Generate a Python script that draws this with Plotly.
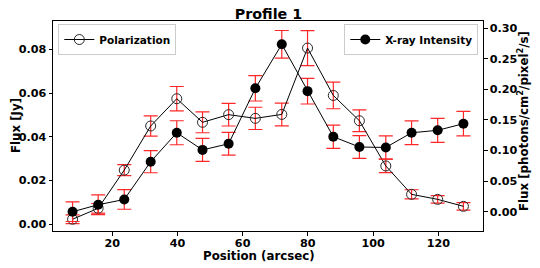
import plotly.graph_objects as go

# Data
position = [7.85, 15.7, 23.7, 31.8, 39.8, 47.7, 55.7, 63.9, 72.0, 79.9, 87.8, 95.8, 103.9, 111.8, 119.8, 127.7]
polarization = [0.0022, 0.0072, 0.0247, 0.0449, 0.0574, 0.0466, 0.0501, 0.0484, 0.0502, 0.0806,
                0.0589, 0.0473, 0.0266, 0.0136, 0.0113, 0.0081]
polarization_err = [0.0020, 0.0022, 0.0025, 0.0046, 0.0056, 0.0048, 0.0052, 0.0051, 0.0052, 0.0080,
                    0.0061, 0.0050, 0.0031, 0.0021, 0.0017, 0.0017]
xray = [0.0, 0.0114, 0.020, 0.0817, 0.129, 0.101, 0.111, 0.2016, 0.2735, 0.197,
        0.1225, 0.1057, 0.105, 0.129, 0.133, 0.1438]
xray_err = [0.016, 0.016, 0.016, 0.018, 0.0196, 0.0188, 0.0185, 0.0207, 0.0226, 0.021,
            0.019, 0.0185, 0.019, 0.0194, 0.0196, 0.020]
x_ticks = [20, 40, 60, 80, 100, 120]
left_ticks = [0, 0.02, 0.04, 0.06, 0.08]
right_ticks = [0, 0.05, 0.10, 0.15, 0.20, 0.25, 0.30]

FONT = "DejaVu Sans"
OFF = 8  # default page body margin of the HTML page
W, H = 540 - OFF, 268 - OFF
# plot area in page pixels: x 53..483, y 21..231
L, T = 53 - OFF, 21 - OFF
R, B = W - (483 - OFF), H - (231 - OFF)
PW, PH = W - L - R, H - T - B


def px_x(page_x):
    return (page_x - OFF - L) / PW


def px_y(page_y):
    return (H - B - (page_y - OFF)) / PH


fig = go.Figure()
fig.add_trace(go.Scatter(
    x=position, y=polarization, name="Polarization", mode="lines+markers", showlegend=True,
    line=dict(color="black", width=1),
    marker=dict(symbol="circle-open", size=10, color="rgb(40,40,40)", line=dict(width=1)),
    error_y=dict(type="data", array=polarization_err, visible=True, color="rgb(255,40,40)", thickness=1.2, width=7),
    legend="legend", yaxis="y",
))
fig.add_trace(go.Scatter(
    x=position, y=xray, name="X-ray Intensity", mode="lines+markers", showlegend=True,
    line=dict(color="black", width=1),
    marker=dict(symbol="circle", size=10, color="black"),
    error_y=dict(type="data", array=xray_err, visible=True, color="rgb(255,40,40)", thickness=1.2, width=7),
    legend="legend2", yaxis="y2",
))

axis_common = dict(
    showline=True, linecolor="black", linewidth=1, ticks="outside", ticklen=3.5, tickwidth=1,
    tickcolor="black", showgrid=False, zeroline=False, automargin=False,
    tickfont=dict(family=FONT, size=11.2, color="black", weight="bold"),
)
title_font = dict(family=FONT, size=11.8, color="black", weight="bold")
legend_font = dict(family=FONT, size=10.5, color="black", weight="bold")

fig.update_layout(
    template="none",
    width=W, height=H,
    margin=dict(l=L, r=R, t=T, b=B, pad=0),
    paper_bgcolor="white", plot_bgcolor="white",
    showlegend=True,
    title=dict(text="Profile 1", x=(268.5 - OFF) / W, xanchor="center",
               y=1.0 - 1.0 / H, yanchor="top", pad=dict(t=0, b=0, l=0, r=0),
               font=dict(family=FONT, size=14.3, color="black", weight="bold")),
    xaxis=dict(range=[1.85, 133.7], tickvals=x_ticks, mirror=True, ticklabelstandoff=-2, **axis_common),
    yaxis=dict(range=[-0.0032, 0.093], tickvals=left_ticks, tickformat=".2f", **axis_common),
    yaxis2=dict(range=[-0.0315, 0.3116], tickvals=right_ticks, tickformat=".2f",
                overlaying="y", side="right", **axis_common),
    legend=dict(x=px_x(58.3), y=px_y(24), xanchor="left", yanchor="top", bgcolor="white",
                bordercolor="#cccccc", borderwidth=1, itemwidth=30, font=legend_font),
    legend2=dict(x=px_x(478.3), y=px_y(24), xanchor="right", yanchor="top", bgcolor="white",
                 bordercolor="#cccccc", borderwidth=1, itemwidth=30, font=legend_font),
    annotations=[
        dict(text="Position (arcsec)", xref="paper", yref="paper", x=px_x(259), y=px_y(256),
             xanchor="center", yanchor="middle", showarrow=False, borderpad=0, font=title_font),
        dict(text="Flux [Jy]", xref="paper", yref="paper", x=px_x(OFF), y=px_y(126),
             xanchor="left", yanchor="middle", textangle=-90, showarrow=False, borderpad=0,
             font=title_font),
        dict(text="Flux [photons/cm<sup>2</sup>/pixel<sup>2</sup>/s]", xref="paper", yref="paper",
             x=px_x(523), y=px_y(121), xanchor="center", yanchor="middle", textangle=-90,
             showarrow=False, borderpad=0, font=title_font),
    ],
)

fig.write_html("out.html")
